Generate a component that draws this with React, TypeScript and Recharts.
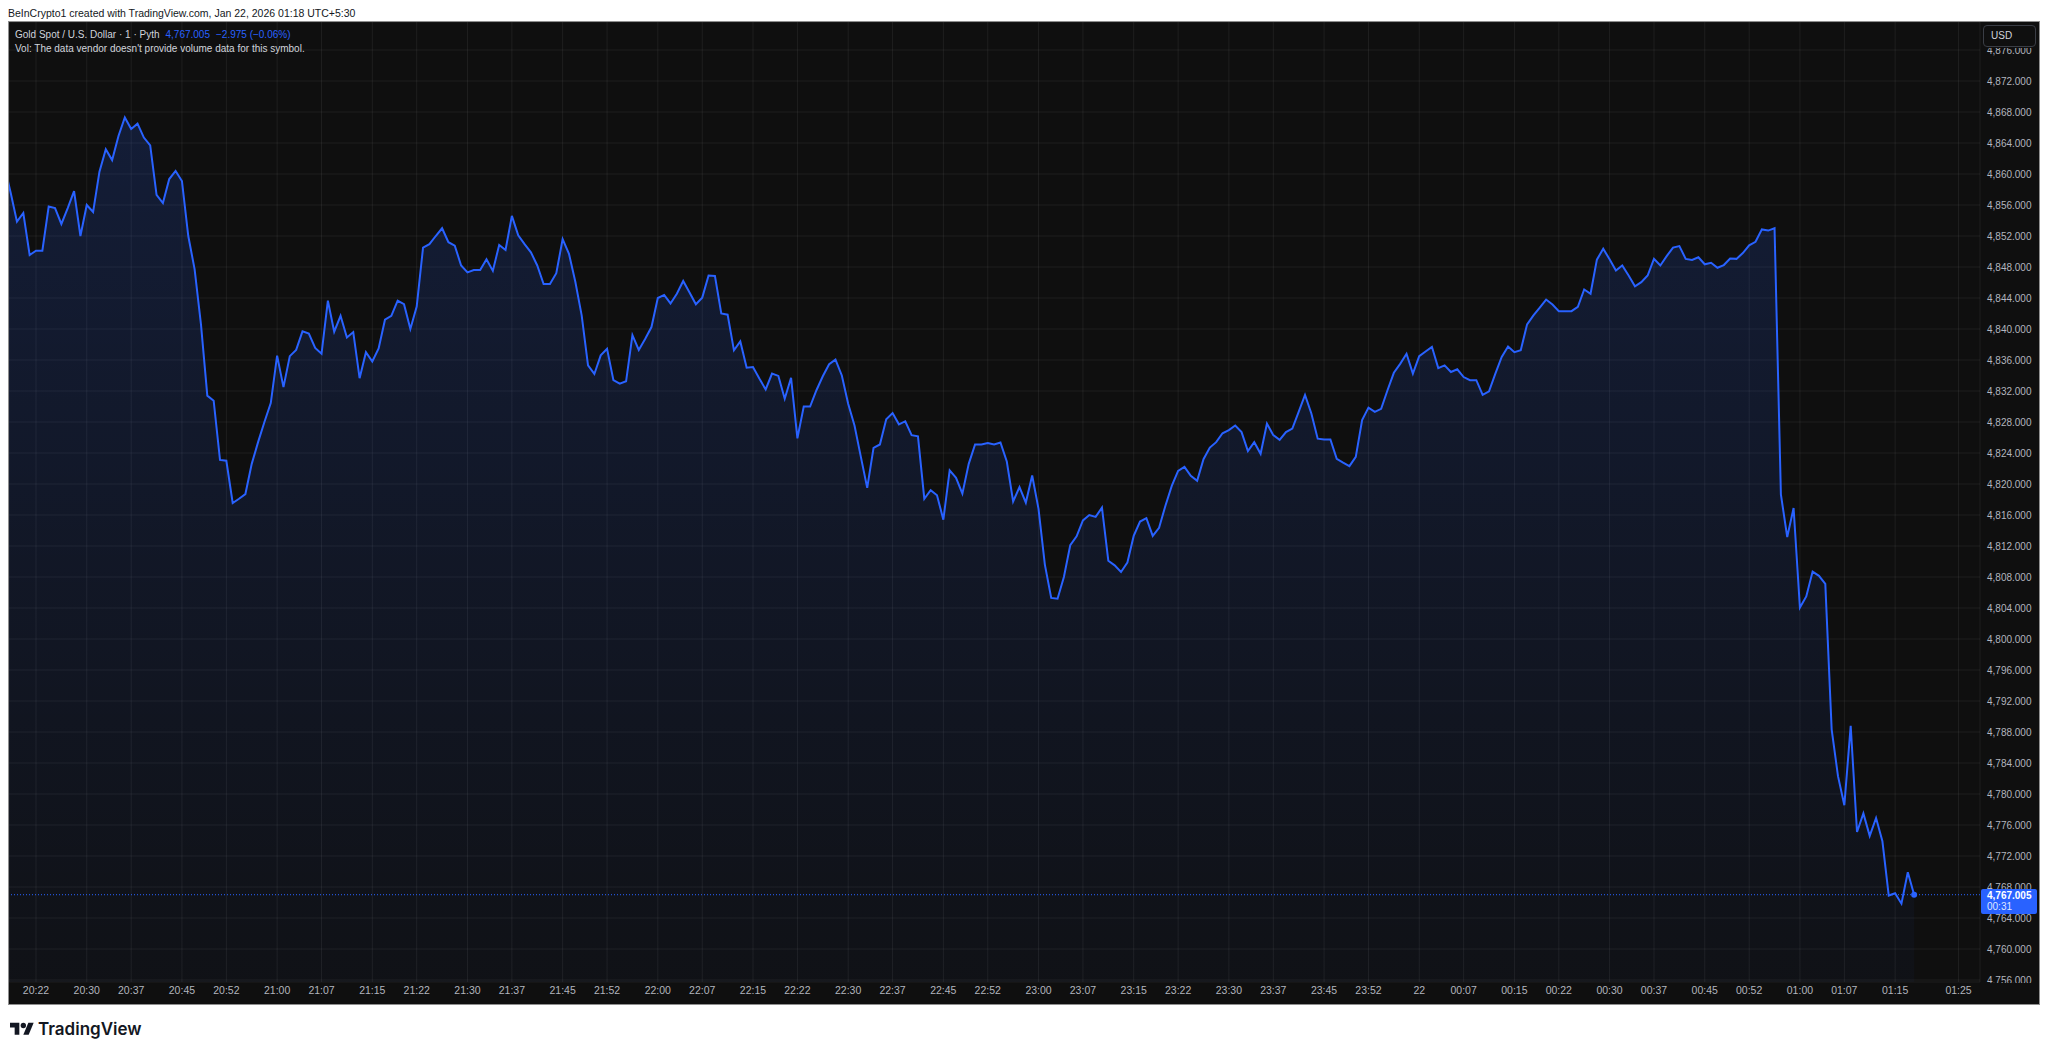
import { Area, AreaChart, CartesianGrid, ReferenceDot, ReferenceLine, XAxis, YAxis } from "recharts";

// 1-minute closes, one array per clock hour; start = minutes after 20:00
const closes2017 = [
  4861.1, 4857.6, 4853.85, 4854.97, 4849.55, 4850.1, 4850.1, 4855.8, 4855.6, 4853.55,
  4855.6, 4857.8, 4852.0, 4856.0, 4855.1, 4860.3, 4863.2, 4861.8, 4864.9, 4867.3,
  4865.8, 4866.5, 4864.7, 4863.7, 4857.3, 4856.25, 4859.35, 4860.4, 4859.1, 4852.0,
  4847.7, 4840.6, 4831.4, 4830.75, 4823.1, 4823.0, 4817.55, 4818.1, 4818.7, 4822.6,
  4825.4, 4828.0, 4830.45,
];
const closes2100 = [
  4836.56, 4832.5, 4836.5, 4837.3, 4839.7, 4839.4, 4837.55, 4836.8, 4843.65, 4839.65,
  4841.7, 4838.9, 4839.6, 4833.65, 4837.0, 4835.8, 4837.5, 4841.2, 4841.7, 4843.65,
  4843.2, 4840.0, 4842.9, 4850.5, 4850.95, 4852.0, 4853.0, 4851.2, 4850.75, 4848.2,
  4847.3, 4847.6, 4847.6, 4849.0, 4847.5, 4850.85, 4850.2, 4854.6, 4852.1, 4850.95,
  4849.9, 4848.2, 4845.8, 4845.8, 4847.2, 4851.6, 4849.7, 4846.1, 4841.75, 4835.3,
  4834.2, 4836.6, 4837.45, 4833.4, 4832.95, 4833.25, 4839.2, 4837.3, 4838.7, 4840.25,
];
const closes2200 = [
  4844.0, 4844.4, 4843.3, 4844.55, 4846.2, 4844.7, 4843.2, 4844.05, 4846.9, 4846.85,
  4842.0, 4841.85, 4837.25, 4838.4, 4835.0, 4835.1, 4833.6, 4832.2, 4834.25, 4833.95,
  4831.0, 4833.7, 4825.9, 4830.0, 4830.0, 4832.1, 4833.9, 4835.45, 4836.05, 4834.0,
  4830.35, 4827.55, 4823.5, 4819.5, 4824.65, 4825.1, 4828.35, 4829.15, 4827.7, 4828.1,
  4826.3, 4826.15, 4818.1, 4819.2, 4818.55, 4815.4, 4821.75, 4820.8, 4818.75, 4822.6,
  4825.1, 4825.1, 4825.3, 4825.1, 4825.35, 4822.9, 4817.75, 4819.6, 4817.6, 4821.1,
];
const closes2300 = [
  4816.8, 4809.6, 4805.3, 4805.2, 4808.0, 4812.1, 4813.25, 4815.3, 4816.0, 4815.75,
  4816.95, 4810.1, 4809.5, 4808.65, 4809.85, 4813.3, 4815.15, 4815.6, 4813.3, 4814.35,
  4817.2, 4819.75, 4821.7, 4822.2, 4821.05, 4820.4, 4823.2, 4824.7, 4825.4, 4826.55,
  4826.95, 4827.55, 4826.7, 4824.25, 4825.4, 4823.9, 4827.8, 4826.3, 4825.7, 4826.7,
  4827.15, 4829.3, 4831.5, 4829.1, 4825.85, 4825.75, 4825.75, 4823.25, 4822.75, 4822.3,
  4823.5, 4828.25, 4829.85, 4829.3, 4829.7, 4832.1, 4834.35, 4835.5, 4836.8, 4834.25,
];
const closes0000 = [
  4836.5, 4837.1, 4837.7, 4834.95, 4835.3, 4834.45, 4834.8, 4833.8, 4833.4, 4833.4,
  4831.5, 4831.95, 4834.25, 4836.4, 4837.75, 4837.0, 4837.25, 4840.6, 4841.75, 4842.75,
  4843.8, 4843.15, 4842.3, 4842.3, 4842.3, 4842.85, 4845.1, 4844.55, 4848.95, 4850.35,
  4849.0, 4847.55, 4848.2, 4846.9, 4845.5, 4846.05, 4846.9, 4849.05, 4848.2, 4849.4,
  4850.5, 4850.7, 4849.05, 4848.9, 4849.25, 4848.35, 4848.55, 4847.9, 4848.25, 4849.1,
  4849.05, 4849.8, 4850.8, 4851.25, 4852.85, 4852.7, 4853.0, 4818.65, 4813.15, 4816.9,
];
const closes0100 = [
  4804.05, 4805.5, 4808.7, 4808.15, 4807.1, 4788.35, 4782.3, 4778.55, 4788.8, 4775.1,
  4777.5, 4774.6, 4776.9, 4773.9, 4766.9, 4767.2, 4765.85, 4769.9, 4767.005,
];

const segments = [
  { start: 17, closes: closes2017 },
  { start: 60, closes: closes2100 },
  { start: 120, closes: closes2200 },
  { start: 180, closes: closes2300 },
  { start: 240, closes: closes0000 },
  { start: 300, closes: closes0100 },
];

const timeTicks = [
  22, 30, 37, 45, 52, 60, 67, 75, 82, 90, 97, 105, 112, 120, 127, 135, 142, 150, 157, 165, 172,
  180, 187, 195, 202, 210, 217, 225, 232, 240, 247, 255, 262, 270, 277, 285, 292, 300, 307, 315, 325,
];
const timeLabels = [
  "20:22", "20:30", "20:37", "20:45", "20:52", "21:00", "21:07", "21:15", "21:22", "21:30", "21:37",
  "21:45", "21:52", "22:00", "22:07", "22:15", "22:22", "22:30", "22:37", "22:45", "22:52", "23:00",
  "23:07", "23:15", "23:22", "23:30", "23:37", "23:45", "23:52", "22", "00:07", "00:15", "00:22",
  "00:30", "00:37", "00:45", "00:52", "01:00", "01:07", "01:15", "01:25",
];
const priceTicks = [
  4756, 4760, 4764, 4768, 4772, 4776, 4780, 4784, 4788, 4792, 4796, 4800, 4804, 4808, 4812, 4816,
  4820, 4824, 4828, 4832, 4836, 4840, 4844, 4848, 4852, 4856, 4860, 4864, 4868, 4872, 4876,
];

const lastTime = 318;
const lastPrice = 4767.005;

const data = segments.flatMap((s) => s.closes.map((price, i) => ({ t: s.start + i, price })));

const BLUE = "#2962ff";
const FONT = "'Liberation Sans', Arial, sans-serif";
const Y_MIN = 4755.742;

const fmtPrice = (v: number) =>
  v.toLocaleString("en-US", { minimumFractionDigits: 3, maximumFractionDigits: 3 });

function TvLogo() {
  return (
    <div style={{ position: "absolute", left: 10, top: 1019, display: "flex", alignItems: "center", gap: 4 }}>
      <svg width="24" height="19" viewBox="0 0 36 28">
        <path d="M14 22H7V11H0V4h14v18z" fill="#131722" />
        <circle cx="20" cy="8" r="4" fill="#131722" />
        <path d="M28 22h-8l7.5-18h8L28 22z" fill="#131722" />
      </svg>
      <span style={{ fontFamily: "Inter, 'Liberation Sans', sans-serif", fontWeight: 600, fontSize: 17, color: "#131722" }}>
        TradingView
      </span>
    </div>
  );
}

export default function App() {
  return (
    <div style={{ position: "fixed", left: 0, top: 0, width: 2048, height: 1055, background: "#fff", fontFamily: FONT }}>
      <div style={{ position: "absolute", left: 8, top: 6, fontSize: 10.5, color: "#131722", lineHeight: "14px" }}>
        BeInCrypto1 created with TradingView.com, Jan 22, 2026 01:18 UTC+5:30
      </div>

      <div
        style={{
          position: "absolute",
          left: 8,
          top: 21,
          width: 2032,
          height: 984,
          boxSizing: "border-box",
          border: "1px solid #8f8f8f",
          background: "#0f0f0f",
          overflow: "hidden",
        }}
      >
        <AreaChart width={2030} height={982} data={data} margin={{ top: 0, right: 0, bottom: 0, left: 0 }}>
          <defs>
            <linearGradient id="goldFill" x1="0" y1="0" x2="0" y2="1">
              <stop offset="0%" stopColor="rgba(41,98,255,0.28)" />
              <stop offset="100%" stopColor="rgba(41,98,255,0.05)" />
            </linearGradient>
          </defs>
          <CartesianGrid stroke="rgba(242,242,242,0.07)" strokeWidth={1} />
          <XAxis
            dataKey="t"
            type="number"
            domain={[17.745, 328.38]}
            allowDataOverflow
            ticks={timeTicks}
            interval={0}
            tickFormatter={(v: number) => timeLabels[timeTicks.indexOf(v)]}
            height={22}
            axisLine={false}
            tickLine={false}
            tickSize={0}
            tickMargin={5}
            tick={{ fill: "#b2b5be", fontSize: 10.5, fontFamily: FONT }}
          />
          <YAxis
            orientation="right"
            type="number"
            domain={[Y_MIN, 4879.613]}
            allowDataOverflow
            ticks={priceTicks}
            interval={0}
            tickFormatter={fmtPrice}
            width={59}
            axisLine={false}
            tickLine={false}
            tickSize={0}
            tickMargin={7}
            tick={{ fill: "#b2b5be", fontSize: 10, fontFamily: FONT, textAnchor: "start" }}
          />
          <Area
            type="linear"
            dataKey="price"
            stroke={BLUE}
            strokeWidth={2}
            fill="url(#goldFill)"
            baseValue={Y_MIN}
            dot={false}
            activeDot={false}
            isAnimationActive={false}
          />
          <ReferenceLine y={lastPrice} stroke={BLUE} strokeWidth={1} strokeDasharray="1 2" />
          <ReferenceDot x={lastTime} y={lastPrice} r={3} fill={BLUE} stroke="none" />
        </AreaChart>

        <div style={{ position: "absolute", left: 6, top: 7, fontSize: 10, lineHeight: "12px", color: "#d1d4dc", whiteSpace: "nowrap" }}>
          Gold Spot / U.S. Dollar · 1 · Pyth
          <span style={{ color: BLUE, marginLeft: 6 }}>4,767.005</span>
          <span style={{ color: BLUE, marginLeft: 6 }}>−2.975 (−0.06%)</span>
        </div>
        <div style={{ position: "absolute", left: 6, top: 21, fontSize: 10, lineHeight: "12px", color: "#d1d4dc", whiteSpace: "nowrap" }}>
          Vol: The data vendor doesn't provide volume data for this symbol.
        </div>

        {/* the price scale clips the top label under the currency box */}
        <div style={{ position: "absolute", left: 1972, top: 0, width: 58, height: 26, background: "#0f0f0f" }} />
        <div
          style={{
            position: "absolute",
            left: 1974,
            top: 3,
            width: 53,
            height: 22,
            boxSizing: "border-box",
            border: "1px solid #3a3d45",
            borderRadius: 4,
            background: "#0f0f0f",
            color: "#d1d4dc",
            fontSize: 10,
            lineHeight: "20px",
            paddingLeft: 7,
          }}
        >
          USD
        </div>

        <div style={{ position: "absolute", left: 1972, top: 961, width: 58, height: 21, background: "#0f0f0f" }} />

        <div
          style={{
            position: "absolute",
            left: 1972,
            top: 867,
            width: 56,
            height: 25,
            background: BLUE,
            borderRadius: 2,
            color: "#fff",
            fontSize: 10,
            lineHeight: "11px",
            paddingLeft: 6,
            paddingTop: 1,
            boxSizing: "border-box",
          }}
        >
          <div style={{ fontWeight: 600 }}>4,767.005</div>
          <div style={{ color: "#dfe6ff" }}>00:31</div>
        </div>
      </div>

      <TvLogo />
    </div>
  );
}
